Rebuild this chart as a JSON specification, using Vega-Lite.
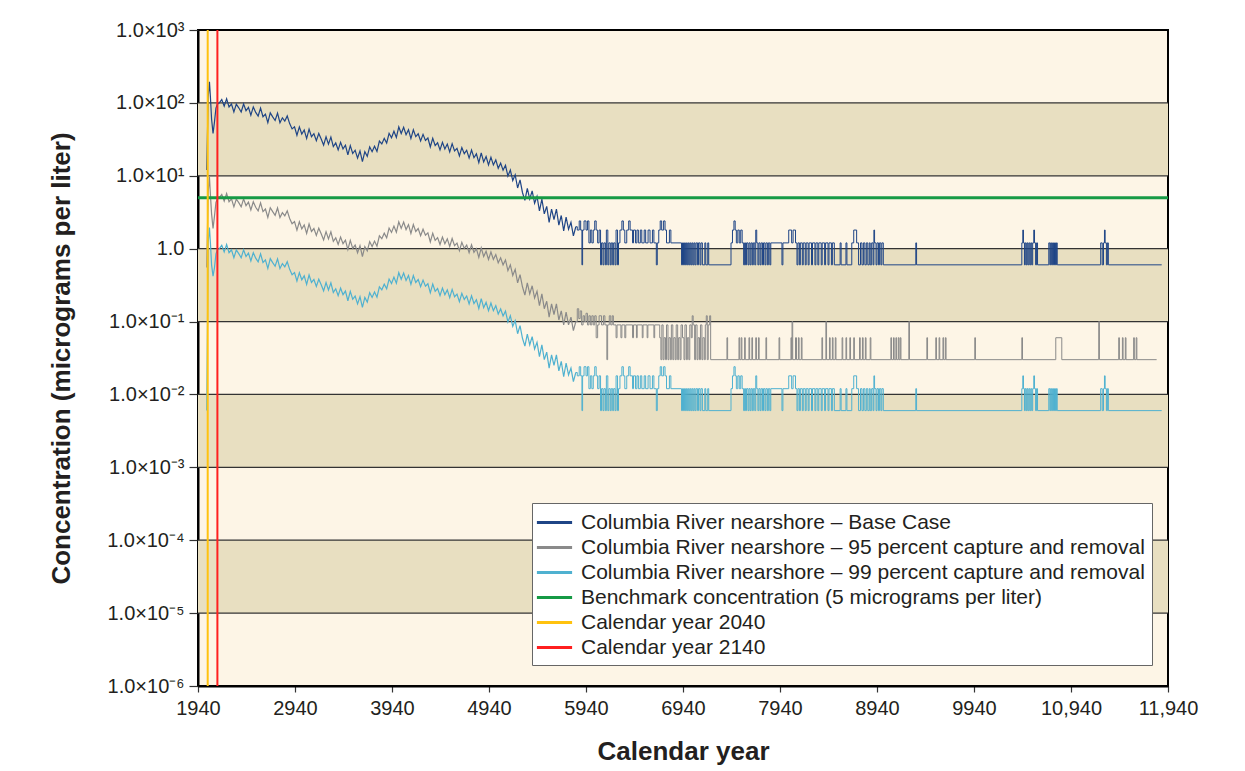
{
"$schema":"https://vega.github.io/schema/vega-lite/v6.json",
"width":970,"height":656,
"autosize":{"type":"none"},
"padding":{"left":198,"top":30,"right":77,"bottom":85},
"background":"#ffffff",
"config":{
 "font":"Liberation Sans",
 "view":{"stroke":"#000000","strokeWidth":2,"fill":"#fdf5e6"},
 "axis":{"labelFont":"Liberation Sans","labelFontSize":20,"labelColor":"#231f20","titleFont":"Liberation Sans","titleFontSize":26,"titleFontWeight":"bold","titleColor":"#231f20","domainColor":"#000000","domainWidth":2,"tickColor":"#333333","tickWidth":1.2,"grid":false},
 "legend":{"orient":"none","legendX":334,"legendY":473,"labelFont":"Liberation Sans","labelFontSize":21,"labelColor":"#231f20","labelLimit":0,"symbolType":"M-1.6,0H1.6","symbolSize":484,"symbolStrokeWidth":3,"symbolOffset":3,"padding":7,"rowPadding":2,"labelOffset":14,"fillColor":"#ffffff","strokeColor":"#666666","cornerRadius":0}
},
"layer":[
 {
  "data":{"values":[{"lo":10,"hi":100},{"lo":0.1,"hi":1},{"lo":0.001,"hi":0.01},{"lo":0.00001,"hi":0.0001}]},
  "mark":{"type":"rect","color":"#e8dfc1"},
  "encoding":{
   "y":{"field":"lo","type":"quantitative","scale":{"type":"log","domain":[0.000001,1000],"nice":false},
     "axis":{"title":"Concentration (micrograms per liter)","values":[0.000001,0.00001,0.0001,0.001,0.01,0.1,1,10,100,1000],"tickSize":9,"labelPadding":5,"titlePadding":32,
     "labelExpr":"datum.value >= 999 ? '1.0×10³' : datum.value >= 99 ? '1.0×10²' : datum.value >= 9 ? '1.0×10¹' : datum.value >= 0.9 ? '1.0' : datum.value >= 0.09 ? '1.0×10⁻¹' : datum.value >= 0.009 ? '1.0×10⁻²' : datum.value >= 0.0009 ? '1.0×10⁻³' : datum.value >= 0.00009 ? '1.0×10⁻⁴' : datum.value >= 0.000009 ? '1.0×10⁻⁵' : '1.0×10⁻⁶'"}},
   "y2":{"field":"hi"}
  }
 },
 {
  "data":{"values":[{"v":100},{"v":10},{"v":1},{"v":0.1},{"v":0.01},{"v":0.001},{"v":0.0001},{"v":0.00001}]},
  "mark":{"type":"rule","color":"#333333","strokeWidth":1.2},
  "encoding":{"y":{"field":"v","type":"quantitative","scale":{"type":"log","domain":[0.000001,1000],"nice":false}}}
 },
 {
  "data":{"values":[
{"x":2030,"b":12,"g":0.55,"c":0.006},
{"x":2045,"b":120,"g":6,"c":1.2},
{"x":2058,"b":195,"g":9.6,"c":1.95},
{"x":2068,"b":120,"g":5.5,"c":1.2},
{"x":2080,"b":60,"g":3,"c":0.6},
{"x":2095,"b":38,"g":1.9,"c":0.42},
{"x":2110,"b":55,"g":2.8,"c":0.55},
{"x":2125,"b":85,"g":4.3,"c":0.85},
{"x":2140,"b":96,"g":4.8,"c":0.96},
{"x":2160,"b":100,"g":5.0,"c":1.0},
{"x":2185,"b":111,"g":5.55,"c":1.11},
{"x":2210,"b":90,"g":4.5,"c":0.9},
{"x":2235,"b":114,"g":5.7,"c":1.14},
{"x":2260,"b":88,"g":4.4,"c":0.88},
{"x":2285,"b":96.5,"g":4.83,"c":0.965},
{"x":2310,"b":75,"g":3.75,"c":0.75},
{"x":2335,"b":96,"g":4.8,"c":0.96},
{"x":2360,"b":85.6,"g":4.28,"c":0.856},
{"x":2385,"b":75,"g":3.75,"c":0.75},
{"x":2410,"b":96.5,"g":4.83,"c":0.965},
{"x":2435,"b":78,"g":3.9,"c":0.78},
{"x":2460,"b":87,"g":4.35,"c":0.87},
{"x":2485,"b":68,"g":3.4,"c":0.68},
{"x":2510,"b":88,"g":4.4,"c":0.88},
{"x":2535,"b":74,"g":3.7,"c":0.74},
{"x":2560,"b":66,"g":3.3,"c":0.66},
{"x":2585,"b":85,"g":4.25,"c":0.85},
{"x":2610,"b":64.6,"g":3.23,"c":0.646},
{"x":2635,"b":70,"g":3.5,"c":0.7},
{"x":2660,"b":53.6,"g":2.68,"c":0.536},
{"x":2685,"b":73,"g":3.65,"c":0.73},
{"x":2710,"b":64.4,"g":3.22,"c":0.644},
{"x":2735,"b":57.4,"g":2.87,"c":0.574},
{"x":2760,"b":72.4,"g":3.62,"c":0.724},
{"x":2785,"b":53.4,"g":2.67,"c":0.534},
{"x":2810,"b":62.4,"g":3.12,"c":0.624},
{"x":2835,"b":56.3,"g":2.82,"c":0.563},
{"x":2860,"b":66.2,"g":3.31,"c":0.662},
{"x":2885,"b":52,"g":2.6,"c":0.52},
{"x":2910,"b":44,"g":2.2,"c":0.44},
{"x":2935,"b":47,"g":2.35,"c":0.47},
{"x":2960,"b":36,"g":1.8,"c":0.36},
{"x":2985,"b":46.8,"g":2.34,"c":0.468},
{"x":3010,"b":37.4,"g":1.87,"c":0.374},
{"x":3035,"b":42.4,"g":2.12,"c":0.424},
{"x":3060,"b":32.4,"g":1.62,"c":0.324},
{"x":3085,"b":43.6,"g":2.18,"c":0.436},
{"x":3110,"b":34.4,"g":1.72,"c":0.344},
{"x":3135,"b":37.8,"g":1.89,"c":0.378},
{"x":3160,"b":30.4,"g":1.52,"c":0.304},
{"x":3185,"b":38.1,"g":1.91,"c":0.381},
{"x":3210,"b":32,"g":1.6,"c":0.32},
{"x":3235,"b":26.4,"g":1.32,"c":0.264},
{"x":3260,"b":34.2,"g":1.71,"c":0.342},
{"x":3285,"b":27.1,"g":1.36,"c":0.271},
{"x":3310,"b":33.9,"g":1.7,"c":0.339},
{"x":3335,"b":25.1,"g":1.26,"c":0.251},
{"x":3360,"b":28.2,"g":1.41,"c":0.282},
{"x":3385,"b":22.7,"g":1.14,"c":0.227},
{"x":3410,"b":28.7,"g":1.44,"c":0.287},
{"x":3435,"b":23.4,"g":1.17,"c":0.234},
{"x":3460,"b":26.2,"g":1.31,"c":0.262},
{"x":3485,"b":19.3,"g":0.97,"c":0.193},
{"x":3510,"b":25.9,"g":1.3,"c":0.259},
{"x":3535,"b":20.2,"g":1.01,"c":0.202},
{"x":3560,"b":22.4,"g":1.12,"c":0.224},
{"x":3585,"b":17.5,"g":0.88,"c":0.175},
{"x":3610,"b":21.9,"g":1.1,"c":0.219},
{"x":3635,"b":15.6,"g":0.78,"c":0.156},
{"x":3660,"b":21.4,"g":1.07,"c":0.214},
{"x":3685,"b":18.5,"g":0.93,"c":0.185},
{"x":3710,"b":24.9,"g":1.25,"c":0.249},
{"x":3735,"b":21.4,"g":1.07,"c":0.214},
{"x":3760,"b":25.4,"g":1.27,"c":0.254},
{"x":3785,"b":21.6,"g":1.08,"c":0.216},
{"x":3810,"b":29.9,"g":1.5,"c":0.299},
{"x":3835,"b":27.3,"g":1.37,"c":0.273},
{"x":3860,"b":32.6,"g":1.63,"c":0.326},
{"x":3885,"b":28.2,"g":1.41,"c":0.282},
{"x":3910,"b":38.3,"g":1.92,"c":0.383},
{"x":3935,"b":33.3,"g":1.67,"c":0.333},
{"x":3960,"b":40.8,"g":2.04,"c":0.408},
{"x":3985,"b":33.6,"g":1.68,"c":0.336},
{"x":4010,"b":46.8,"g":2.34,"c":0.468},
{"x":4035,"b":38,"g":1.9,"c":0.38},
{"x":4060,"b":46.4,"g":2.32,"c":0.464},
{"x":4085,"b":36.6,"g":1.83,"c":0.366},
{"x":4110,"b":42.8,"g":2.14,"c":0.428},
{"x":4135,"b":32.4,"g":1.62,"c":0.324},
{"x":4160,"b":42.8,"g":2.14,"c":0.428},
{"x":4185,"b":34.4,"g":1.72,"c":0.344},
{"x":4210,"b":37.7,"g":1.89,"c":0.377},
{"x":4235,"b":30.1,"g":1.51,"c":0.301},
{"x":4260,"b":37,"g":1.85,"c":0.37},
{"x":4285,"b":30.6,"g":1.53,"c":0.306},
{"x":4310,"b":33,"g":1.65,"c":0.33},
{"x":4335,"b":24.8,"g":1.24,"c":0.248},
{"x":4360,"b":32.6,"g":1.63,"c":0.326},
{"x":4385,"b":26,"g":1.3,"c":0.26},
{"x":4410,"b":28.4,"g":1.42,"c":0.284},
{"x":4435,"b":22.7,"g":1.14,"c":0.227},
{"x":4460,"b":28.8,"g":1.44,"c":0.288},
{"x":4485,"b":23.3,"g":1.17,"c":0.233},
{"x":4510,"b":27.2,"g":1.36,"c":0.272},
{"x":4535,"b":21.3,"g":1.07,"c":0.213},
{"x":4560,"b":27.6,"g":1.38,"c":0.276},
{"x":4585,"b":21.9,"g":1.1,"c":0.219},
{"x":4610,"b":23.8,"g":1.19,"c":0.238},
{"x":4635,"b":18.7,"g":0.94,"c":0.187},
{"x":4660,"b":24.4,"g":1.22,"c":0.244},
{"x":4685,"b":20.1,"g":1.01,"c":0.201},
{"x":4710,"b":22.4,"g":1.12,"c":0.224},
{"x":4735,"b":17.5,"g":0.88,"c":0.175},
{"x":4760,"b":22.6,"g":1.13,"c":0.226},
{"x":4785,"b":17.7,"g":0.89,"c":0.177},
{"x":4810,"b":20,"g":1.0,"c":0.2},
{"x":4835,"b":15.1,"g":0.76,"c":0.151},
{"x":4860,"b":20.6,"g":1.03,"c":0.206},
{"x":4885,"b":15.5,"g":0.78,"c":0.155},
{"x":4910,"b":18.4,"g":0.92,"c":0.184},
{"x":4935,"b":14.1,"g":0.71,"c":0.141},
{"x":4960,"b":18,"g":0.9,"c":0.18},
{"x":4985,"b":14.1,"g":0.71,"c":0.141},
{"x":5010,"b":16.5,"g":0.83,"c":0.165},
{"x":5035,"b":12.7,"g":0.64,"c":0.127},
{"x":5060,"b":14.9,"g":0.75,"c":0.149},
{"x":5085,"b":11.9,"g":0.6,"c":0.119},
{"x":5110,"b":13.9,"g":0.7,"c":0.139},
{"x":5135,"b":9.9,"g":0.5,"c":0.099},
{"x":5160,"b":12,"g":0.6,"c":0.12},
{"x":5185,"b":8.6,"g":0.43,"c":0.086},
{"x":5210,"b":10.3,"g":0.52,"c":0.103},
{"x":5235,"b":6.8,"g":0.34,"c":0.068},
{"x":5260,"b":8.8,"g":0.44,"c":0.088},
{"x":5285,"b":5.9,"g":0.3,"c":0.059},
{"x":5310,"b":4.6,"g":0.23,"c":0.046},
{"x":5335,"b":6.7,"g":0.34,"c":0.067},
{"x":5360,"b":4.8,"g":0.24,"c":0.048},
{"x":5385,"b":6.2,"g":0.31,"c":0.062},
{"x":5410,"b":4.2,"g":0.21,"c":0.042},
{"x":5435,"b":5.2,"g":0.26,"c":0.052},
{"x":5460,"b":3.3,"g":0.165,"c":0.033},
{"x":5485,"b":4.8,"g":0.24,"c":0.048},
{"x":5510,"b":3.0,"g":0.15,"c":0.030},
{"x":5535,"b":3.8,"g":0.19,"c":0.038},
{"x":5560,"b":2.3,"g":0.115,"c":0.023},
{"x":5585,"b":3.5,"g":0.175,"c":0.035},
{"x":5610,"b":2.5,"g":0.125,"c":0.025},
{"x":5635,"b":3.5,"g":0.175,"c":0.035},
{"x":5660,"b":2.1,"g":0.105,"c":0.021},
{"x":5685,"b":2.85,"g":0.14,"c":0.0285},
{"x":5710,"b":1.75,"g":0.09,"c":0.0175},
{"x":5735,"b":2.7,"g":0.135,"c":0.027},
{"x":5760,"b":1.85,"g":0.09,"c":0.0185},
{"x":5785,"b":2.3,"g":0.115,"c":0.023},
{"x":5810,"b":1.5,"g":0.075,"c":0.015},
{"x":5835,"b":2.0,"g":0.1,"c":0.02}
  ]},
  "transform":[
   {"fold":["b","g","c"],"as":["key","value"]},
   {"filter":"isValid(datum.value)"}
  ],
  "mark":{"type":"line","strokeWidth":1.2},
  "encoding":{
   "x":{"field":"x","type":"quantitative","scale":{"domain":[1940,11940],"nice":false,"zero":false},
     "axis":{"title":"Calendar year","values":[1940,2940,3940,4940,5940,6940,7940,8940,9940,10940,11940],"tickSize":6,"labelPadding":6,"titlePadding":20,"labelFlush":false,"labelOverlap":false,"labelExpr":"datum.value >= 10000 ? format(datum.value, ',') : '' + datum.value"}},
   "y":{"field":"value","type":"quantitative","scale":{"type":"log","domain":[0.000001,1000],"nice":false}},
   "color":{"field":"key","type":"nominal","scale":{"domain":["b","g","c","bm","y1","y2"],"range":["#1f4586","#8a8a8a","#4fb1d0","#169a45","#ffc20e","#ff1f1f"]},
     "legend":{"title":null,
      "labelExpr":"datum.label == 'b' ? 'Columbia River nearshore – Base Case' : datum.label == 'g' ? 'Columbia River nearshore – 95 percent capture and removal' : datum.label == 'c' ? 'Columbia River nearshore – 99 percent capture and removal' : datum.label == 'bm' ? 'Benchmark concentration (5 micrograms per liter)' : datum.label == 'y1' ? 'Calendar year 2040' : 'Calendar year 2140'",
      "encode":{"symbols":{"update":{"stroke":{"value":{"expr":"datum.value == 'b' ? '#000080' : scale('color', datum.value)"}},"strokeWidth":{"value":3},"opacity":{"value":1}}}}}},
   "order":{"field":"x","type":"quantitative"}
  }
 },
 {
  "data":{"values":[
{"x":5835,"b":2.0,"g":0.1,"c":0.02},
{"x":5850,"b":1.8,"c":0.018},{"x":5870,"b":2.4,"c":0.024},{"x":5885,"b":1.8,"c":0.018},{"x":5898,"b":0.6,"c":0.006},{"x":5905,"b":1.8,"c":0.018},{"x":5920,"b":2.4,"c":0.024},{"x":5940,"b":1.8,"c":0.018},{"x":5955,"b":2.4,"c":0.024},{"x":5970,"b":1.2,"c":0.012},{"x":5985,"b":1.8,"c":0.018},{"x":6000,"b":1.2,"c":0.012},{"x":6015,"b":1.8,"c":0.018},{"x":6030,"b":2.4,"c":0.024},{"x":6045,"b":1.8,"c":0.018},{"x":6060,"b":1.2,"c":0.012},{"x":6075,"b":1.8,"c":0.018},
{"x":6090,"b":0.6,"c":0.006},{"x":6100,"b":1.2,"c":0.012},{"x":6115,"b":0.6,"c":0.006},{"x":6125,"b":1.2,"c":0.012},{"x":6140,"b":0.6,"c":0.006},{"x":6150,"b":1.8,"c":0.018},{"x":6165,"b":0.6,"c":0.006},{"x":6175,"b":1.2,"c":0.012},{"x":6190,"b":0.6,"c":0.006},{"x":6200,"b":1.2,"c":0.012},{"x":6215,"b":0.6,"c":0.006},{"x":6225,"b":1.2,"c":0.012},{"x":6240,"b":0.6,"c":0.006},{"x":6250,"b":1.8,"c":0.018},{"x":6265,"b":0.6,"c":0.006},{"x":6275,"b":1.2,"c":0.012},{"x":6290,"b":1.8,"c":0.018},{"x":6310,"b":2.4,"c":0.024},{"x":6325,"b":1.8,"c":0.018},{"x":6340,"b":1.2,"c":0.012},
{"x":6360,"b":1.8,"c":0.018},{"x":6380,"b":2.4,"c":0.024},{"x":6395,"b":1.8,"c":0.018},{"x":6420,"b":1.2,"c":0.012},{"x":6430,"b":1.8,"c":0.018},{"x":6450,"b":1.2,"c":0.012},{"x":6465,"b":1.8,"c":0.018},{"x":6480,"b":1.2,"c":0.012},{"x":6500,"b":1.8,"c":0.018},{"x":6515,"b":1.2,"c":0.012},{"x":6540,"b":1.8,"c":0.018},{"x":6555,"b":1.2,"c":0.012},{"x":6580,"b":1.8,"c":0.018},{"x":6600,"b":1.2,"c":0.012},{"x":6625,"b":1.8,"c":0.018},{"x":6640,"b":1.2,"c":0.012},{"x":6665,"b":0.6,"c":0.006},{"x":6675,"b":1.2,"c":0.012},
{"x":6690,"b":1.8,"c":0.018},{"x":6705,"b":2.4,"c":0.024},{"x":6720,"b":1.8,"c":0.018},{"x":6740,"b":2.4,"c":0.024},{"x":6755,"b":1.8,"c":0.018},{"x":6770,"b":1.2,"c":0.012},{"x":6800,"b":1.8,"c":0.018},{"x":6815,"b":1.2,"c":0.012},
{"x":6925,"b":0.6,"c":0.006},{"x":6935,"b":1.2,"c":0.012},{"x":6945,"b":0.6,"c":0.006},{"x":6955,"b":1.2,"c":0.012},{"x":6965,"b":0.6,"c":0.006},{"x":6975,"b":1.2,"c":0.012},{"x":6985,"b":0.6,"c":0.006},{"x":6995,"b":1.2,"c":0.012},{"x":7005,"b":0.6,"c":0.006},{"x":7015,"b":1.2,"c":0.012},{"x":7025,"b":0.6,"c":0.006},{"x":7035,"b":1.2,"c":0.012},{"x":7045,"b":0.6,"c":0.006},{"x":7055,"b":1.2,"c":0.012},{"x":7065,"b":0.6,"c":0.006},{"x":7075,"b":1.2,"c":0.012},{"x":7090,"b":0.6,"c":0.006},{"x":7100,"b":1.2,"c":0.012},{"x":7115,"b":0.6,"c":0.006},{"x":7125,"b":1.2,"c":0.012},{"x":7140,"b":0.6,"c":0.006},{"x":7165,"b":1.2,"c":0.012},{"x":7175,"b":0.6,"c":0.006},{"x":7195,"b":1.2,"c":0.012},{"x":7205,"b":0.6,"c":0.006},
{"x":7435,"b":1.2,"c":0.012},{"x":7450,"b":1.8,"c":0.018},{"x":7465,"b":2.4,"c":0.024},{"x":7478,"b":1.8,"c":0.018},{"x":7490,"b":1.2,"c":0.012},{"x":7505,"b":1.8,"c":0.018},{"x":7520,"b":1.2,"c":0.012},{"x":7535,"b":1.8,"c":0.018},{"x":7550,"b":1.2,"c":0.012},{"x":7565,"b":0.6,"c":0.006},{"x":7575,"b":1.2,"c":0.012},{"x":7585,"b":0.6,"c":0.006},{"x":7595,"b":1.2,"c":0.012},
{"x":7610,"b":0.6,"c":0.006},{"x":7620,"b":1.2,"c":0.012},{"x":7632,"b":0.6,"c":0.006},{"x":7642,"b":1.2,"c":0.012},{"x":7655,"b":0.6,"c":0.006},{"x":7665,"b":1.2,"c":0.012},{"x":7680,"b":0.6,"c":0.006},{"x":7690,"b":1.8,"c":0.018},{"x":7700,"b":1.2,"c":0.012},{"x":7712,"b":0.6,"c":0.006},{"x":7722,"b":1.2,"c":0.012},{"x":7735,"b":0.6,"c":0.006},{"x":7745,"b":1.2,"c":0.012},{"x":7760,"b":0.6,"c":0.006},{"x":7770,"b":1.2,"c":0.012},{"x":7785,"b":0.6,"c":0.006},{"x":7795,"b":1.2,"c":0.012},{"x":7810,"b":0.6,"c":0.006},{"x":7820,"b":1.2,"c":0.012},{"x":7835,"b":0.6,"c":0.006},{"x":7845,"b":1.2,"c":0.012},
{"x":7960,"b":0.6,"c":0.006},{"x":7970,"b":1.2,"c":0.012},
{"x":8030,"b":1.8,"c":0.018},{"x":8060,"b":1.2,"c":0.012},{"x":8075,"b":1.8,"c":0.018},{"x":8100,"b":1.2,"c":0.012},
{"x":8115,"b":0.6,"c":0.006},{"x":8125,"b":1.2,"c":0.012},{"x":8140,"b":0.6,"c":0.006},{"x":8150,"b":1.2,"c":0.012},{"x":8170,"b":0.6,"c":0.006},{"x":8180,"b":1.2,"c":0.012},{"x":8200,"b":0.6,"c":0.006},{"x":8210,"b":1.2,"c":0.012},{"x":8230,"b":0.6,"c":0.006},{"x":8240,"b":1.2,"c":0.012},{"x":8265,"b":0.6,"c":0.006},{"x":8275,"b":1.2,"c":0.012},{"x":8300,"b":0.6,"c":0.006},{"x":8310,"b":1.2,"c":0.012},{"x":8330,"b":0.6,"c":0.006},{"x":8340,"b":1.2,"c":0.012},{"x":8365,"b":0.6,"c":0.006},{"x":8375,"b":1.2,"c":0.012},{"x":8400,"b":0.6,"c":0.006},{"x":8410,"b":1.2,"c":0.012},{"x":8435,"b":0.6,"c":0.006},{"x":8445,"b":1.2,"c":0.012},{"x":8470,"b":0.6,"c":0.006},{"x":8480,"b":1.2,"c":0.012},{"x":8500,"b":0.6,"c":0.006},
{"x":8560,"b":1.2,"c":0.012},{"x":8570,"b":0.6,"c":0.006},{"x":8620,"b":1.2,"c":0.012},{"x":8630,"b":0.6,"c":0.006},
{"x":8680,"b":1.2,"c":0.012},{"x":8700,"b":1.8,"c":0.018},{"x":8730,"b":1.2,"c":0.012},{"x":8750,"b":0.6,"c":0.006},
{"x":8770,"b":1.2,"c":0.012},{"x":8785,"b":0.6,"c":0.006},{"x":8800,"b":1.2,"c":0.012},{"x":8815,"b":0.6,"c":0.006},{"x":8830,"b":1.2,"c":0.012},{"x":8845,"b":0.6,"c":0.006},{"x":8860,"b":1.2,"c":0.012},{"x":8870,"b":0.6,"c":0.006},{"x":8885,"b":1.2,"c":0.012},{"x":8900,"b":0.6,"c":0.006},{"x":8908,"b":1.8,"c":0.018},{"x":8915,"b":1.2,"c":0.012},{"x":8930,"b":0.6,"c":0.006},{"x":8940,"b":1.2,"c":0.012},{"x":8955,"b":0.6,"c":0.006},{"x":8965,"b":1.2,"c":0.012},{"x":8980,"b":0.6,"c":0.006},{"x":8990,"b":1.2,"c":0.012},{"x":9005,"b":0.6,"c":0.006},
{"x":9340,"b":1.2,"c":0.012},{"x":9348,"b":0.6,"c":0.006},
{"x":10433,"b":1.2,"c":0.012},{"x":10443,"b":1.8,"c":0.018},{"x":10450,"b":1.2,"c":0.012},{"x":10460,"b":0.6,"c":0.006},{"x":10468,"b":1.2,"c":0.012},{"x":10478,"b":0.6,"c":0.006},{"x":10486,"b":1.2,"c":0.012},{"x":10495,"b":0.6,"c":0.006},{"x":10505,"b":1.2,"c":0.012},{"x":10515,"b":0.6,"c":0.006},{"x":10525,"b":1.2,"c":0.012},{"x":10535,"b":0.6,"c":0.006},{"x":10545,"b":1.2,"c":0.012},{"x":10556,"b":1.8,"c":0.018},{"x":10564,"b":1.2,"c":0.012},{"x":10575,"b":0.6,"c":0.006},{"x":10585,"b":1.2,"c":0.012},{"x":10595,"b":0.6,"c":0.006},
{"x":10711,"b":1.2,"c":0.012},{"x":10722,"b":0.6,"c":0.006},{"x":10730,"b":1.2,"c":0.012},{"x":10740,"b":0.6,"c":0.006},{"x":10750,"b":1.2,"c":0.012},{"x":10760,"b":0.6,"c":0.006},{"x":10770,"b":1.2,"c":0.012},{"x":10780,"b":0.6,"c":0.006},{"x":10790,"b":1.2,"c":0.012},{"x":10798,"b":0.6,"c":0.006},
{"x":11246,"b":1.2,"c":0.012},{"x":11262,"b":0.6,"c":0.006},{"x":11275,"b":1.2,"c":0.012},{"x":11285,"b":1.8,"c":0.018},{"x":11292,"b":1.2,"c":0.012},{"x":11305,"b":0.6,"c":0.006},{"x":11315,"b":1.2,"c":0.012},{"x":11325,"b":0.6,"c":0.006},
{"x":11875,"b":0.6,"c":0.006},
{"x":5850,"g":0.15},{"x":5865,"g":0.11},{"x":5880,"g":0.14},{"x":5895,"g":0.09},{"x":5910,"g":0.12},{"x":5925,"g":0.1},{"x":5940,"g":0.13},{"x":5955,"g":0.09},{"x":5970,"g":0.12},{"x":5985,"g":0.09},{"x":6000,"g":0.12},{"x":6015,"g":0.09},{"x":6030,"g":0.12},{"x":6045,"g":0.06},{"x":6060,"g":0.09},{"x":6075,"g":0.12},
{"x":6100,"g":0.09},{"x":6120,"g":0.12},{"x":6135,"g":0.09},{"x":6155,"g":0.03},{"x":6163,"g":0.09},{"x":6180,"g":0.12},{"x":6195,"g":0.09},{"x":6210,"g":0.12},{"x":6222,"g":0.09},{"x":6250,"g":0.06},{"x":6260,"g":0.09},{"x":6300,"g":0.06},{"x":6310,"g":0.09},{"x":6340,"g":0.06},{"x":6350,"g":0.09},{"x":6420,"g":0.06},{"x":6430,"g":0.09},{"x":6460,"g":0.06},{"x":6468,"g":0.09},{"x":6520,"g":0.06},{"x":6528,"g":0.09},{"x":6570,"g":0.06},{"x":6578,"g":0.09},{"x":6640,"g":0.06},{"x":6648,"g":0.09},
{"x":6700,"g":0.06},{"x":6712,"g":0.03},{"x":6722,"g":0.09},{"x":6735,"g":0.03},{"x":6745,"g":0.06},{"x":6760,"g":0.03},{"x":6770,"g":0.09},{"x":6785,"g":0.03},{"x":6795,"g":0.06},{"x":6810,"g":0.03},{"x":6820,"g":0.09},{"x":6835,"g":0.03},{"x":6845,"g":0.06},{"x":6860,"g":0.03},{"x":6870,"g":0.09},{"x":6885,"g":0.03},{"x":6895,"g":0.06},{"x":6910,"g":0.03},{"x":6920,"g":0.09},{"x":6935,"g":0.06},{"x":6950,"g":0.03},{"x":6960,"g":0.09},{"x":6975,"g":0.03},{"x":6985,"g":0.06},{"x":7000,"g":0.03},{"x":7010,"g":0.09},{"x":7025,"g":0.06},{"x":7035,"g":0.12},{"x":7045,"g":0.09},{"x":7060,"g":0.03},{"x":7070,"g":0.09},{"x":7085,"g":0.03},{"x":7095,"g":0.06},{"x":7110,"g":0.03},{"x":7120,"g":0.09},{"x":7135,"g":0.03},{"x":7145,"g":0.06},{"x":7160,"g":0.03},{"x":7170,"g":0.09},{"x":7180,"g":0.12},{"x":7190,"g":0.03},{"x":7200,"g":0.09},{"x":7215,"g":0.12},{"x":7225,"g":0.03},
{"x":7393,"g":0.06},{"x":7400,"g":0.03},
{"x":7517,"g":0.06},{"x":7524,"g":0.03},{"x":7540,"g":0.06},{"x":7547,"g":0.03},{"x":7575,"g":0.06},{"x":7582,"g":0.03},
{"x":7620,"g":0.06},{"x":7627,"g":0.03},{"x":7650,"g":0.06},{"x":7657,"g":0.03},{"x":7690,"g":0.06},{"x":7697,"g":0.03},{"x":7718,"g":0.06},{"x":7725,"g":0.03},
{"x":7795,"g":0.06},{"x":7802,"g":0.03},
{"x":7930,"g":0.06},{"x":7937,"g":0.03},
{"x":8053,"g":0.06},{"x":8060,"g":0.03},{"x":8064,"g":0.1},{"x":8071,"g":0.03},{"x":8100,"g":0.06},{"x":8110,"g":0.03},{"x":8130,"g":0.06},{"x":8137,"g":0.03},{"x":8160,"g":0.06},{"x":8167,"g":0.03},
{"x":8372,"g":0.06},{"x":8379,"g":0.03},{"x":8413,"g":0.1},{"x":8420,"g":0.03},{"x":8450,"g":0.06},{"x":8457,"g":0.03},{"x":8480,"g":0.06},{"x":8487,"g":0.03},{"x":8510,"g":0.06},{"x":8517,"g":0.03},
{"x":8580,"g":0.06},{"x":8587,"g":0.03},{"x":8620,"g":0.06},{"x":8627,"g":0.03},{"x":8660,"g":0.06},{"x":8667,"g":0.03},{"x":8700,"g":0.06},{"x":8707,"g":0.03},{"x":8760,"g":0.06},{"x":8767,"g":0.03},{"x":8790,"g":0.06},{"x":8797,"g":0.03},{"x":8820,"g":0.06},{"x":8827,"g":0.03},{"x":8870,"g":0.06},{"x":8877,"g":0.03},
{"x":9083,"g":0.06},{"x":9090,"g":0.03},{"x":9110,"g":0.06},{"x":9117,"g":0.03},{"x":9135,"g":0.06},{"x":9142,"g":0.03},{"x":9160,"g":0.06},{"x":9167,"g":0.03},{"x":9180,"g":0.06},{"x":9187,"g":0.03},
{"x":9268,"g":0.1},{"x":9275,"g":0.03},
{"x":9454,"g":0.06},{"x":9461,"g":0.03},
{"x":9546,"g":0.06},{"x":9553,"g":0.03},{"x":9580,"g":0.06},{"x":9587,"g":0.03},{"x":9620,"g":0.06},{"x":9627,"g":0.03},{"x":9645,"g":0.06},{"x":9652,"g":0.03},
{"x":9948,"g":0.06},{"x":9955,"g":0.03},
{"x":10433,"g":0.06},{"x":10440,"g":0.03},
{"x":10783,"g":0.06},{"x":10845,"g":0.03},
{"x":11226,"g":0.1},{"x":11233,"g":0.03},
{"x":11432,"g":0.06},{"x":11439,"g":0.03},{"x":11470,"g":0.06},{"x":11477,"g":0.03},{"x":11500,"g":0.06},{"x":11507,"g":0.03},
{"x":11586,"g":0.06},{"x":11593,"g":0.03},{"x":11612,"g":0.06},{"x":11619,"g":0.03},
{"x":11823,"g":0.03}
  ]},
  "transform":[
   {"fold":["b","g","c"],"as":["key","value"]},
   {"filter":"isValid(datum.value)"}
  ],
  "mark":{"type":"line","interpolate":"step-after","strokeWidth":1},
  "encoding":{
   "x":{"field":"x","type":"quantitative","scale":{"domain":[1940,11940],"nice":false,"zero":false}},
   "y":{"field":"value","type":"quantitative","scale":{"type":"log","domain":[0.000001,1000],"nice":false}},
   "color":{"field":"key","type":"nominal","scale":{"domain":["b","g","c","bm","y1","y2"],"range":["#1f4586","#8a8a8a","#4fb1d0","#169a45","#ffc20e","#ff1f1f"]}},
   "order":{"field":"x","type":"quantitative"}
  }
 },
 {
  "data":{"values":[{"key":"bm","v":5}]},
  "mark":{"type":"rule","strokeWidth":3},
  "encoding":{
   "y":{"field":"v","type":"quantitative","scale":{"type":"log","domain":[0.000001,1000],"nice":false}},
   "color":{"field":"key","type":"nominal","scale":{"domain":["b","g","c","bm","y1","y2"],"range":["#1f4586","#8a8a8a","#4fb1d0","#169a45","#ffc20e","#ff1f1f"]}}
  }
 },
 {
  "data":{"values":[{"key":"y1","yr":2040},{"key":"y2","yr":2140}]},
  "mark":{"type":"rule","strokeWidth":2},
  "encoding":{
   "x":{"field":"yr","type":"quantitative","scale":{"domain":[1940,11940],"nice":false,"zero":false}},
   "color":{"field":"key","type":"nominal","scale":{"domain":["b","g","c","bm","y1","y2"],"range":["#1f4586","#8a8a8a","#4fb1d0","#169a45","#ffc20e","#ff1f1f"]}}
  }
 }
]
}
